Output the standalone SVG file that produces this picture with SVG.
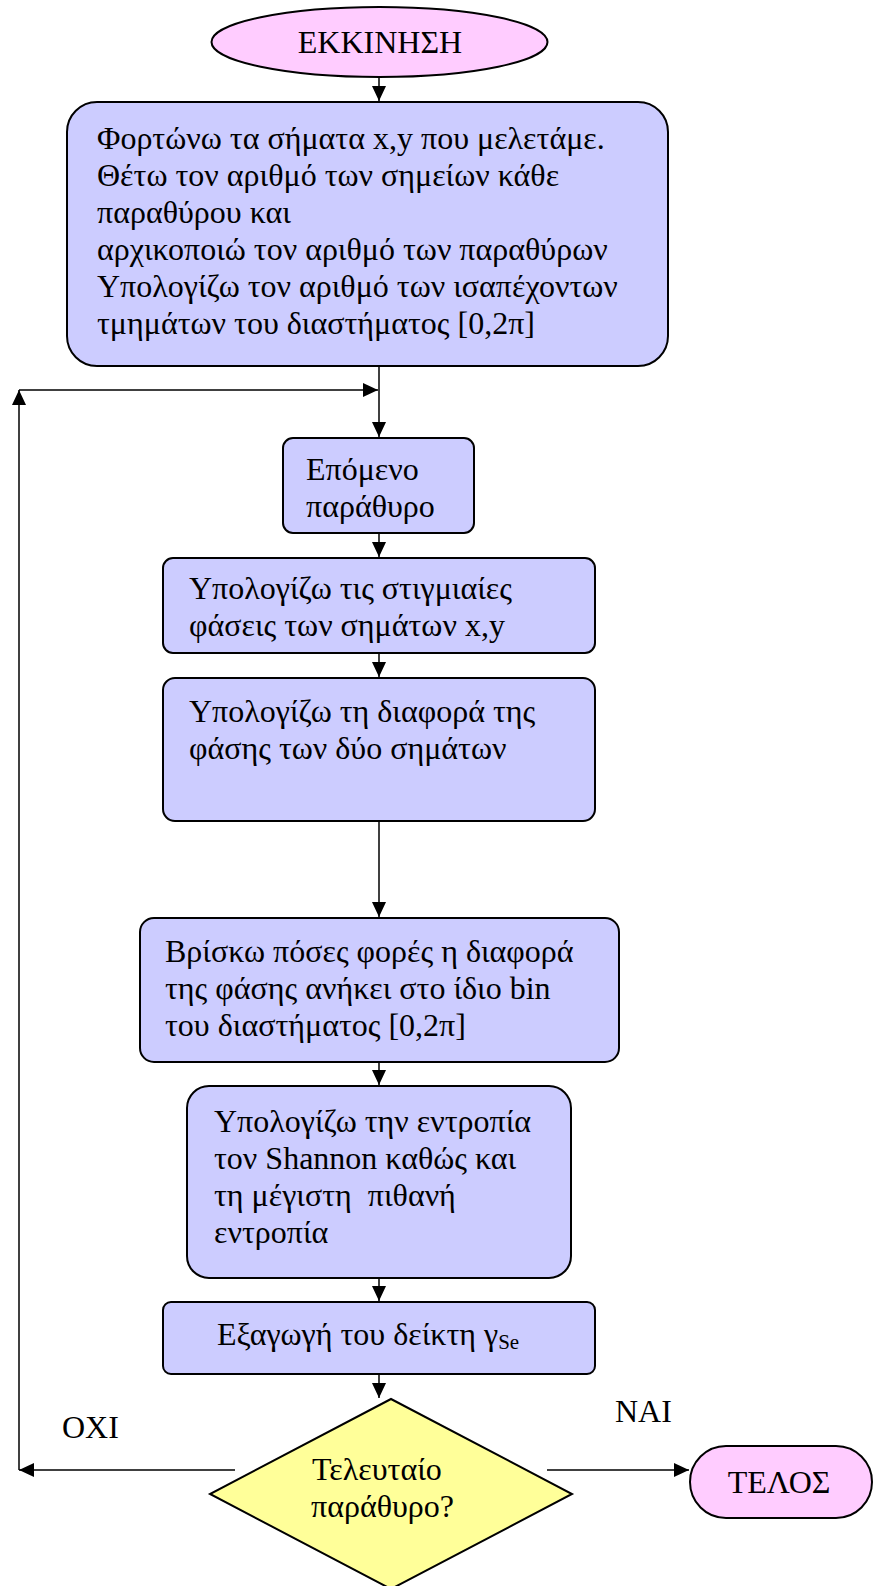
<svg xmlns="http://www.w3.org/2000/svg" width="873" height="1586" viewBox="0 0 873 1586">
<style>
text{font-family:"Liberation Serif","Times New Roman",serif;font-size:32px;fill:#000}
.box{fill:#CCCCFF;stroke:#000;stroke-width:2}
.term{fill:#FFCCFF;stroke:#000;stroke-width:2}
.dec{fill:#FFFF99;stroke:#000;stroke-width:2}
.con{stroke:#000;stroke-width:1.5;fill:none;marker-end:url(#ah)}
</style>
<defs>
<marker id="ah" markerUnits="userSpaceOnUse" markerWidth="16" markerHeight="14" refX="15" refY="7" orient="auto">
<path d="M0,0 L15,7 L0,14 z" fill="#000"/>
</marker>
</defs>
<rect width="873" height="1586" fill="#fff"/>
<g id="connectors">
<line class="con" x1="379" y1="77" x2="379" y2="101"/>
<line class="con" x1="379" y1="366" x2="379" y2="437"/>
<line class="con" x1="19" y1="390" x2="378" y2="390"/>
<line class="con" x1="379" y1="533" x2="379" y2="557"/>
<line class="con" x1="379" y1="653" x2="379" y2="677"/>
<line class="con" x1="379" y1="821" x2="379" y2="917"/>
<line class="con" x1="379" y1="1062" x2="379" y2="1085"/>
<line class="con" x1="379" y1="1278" x2="379" y2="1301"/>
<line class="con" x1="379" y1="1374" x2="379" y2="1398"/>
<line class="con" x1="235" y1="1470" x2="19" y2="1470"/>
<line class="con" x1="19" y1="1470" x2="19" y2="390"/>
<line class="con" x1="547" y1="1470" x2="689" y2="1470"/>
</g>
<g id="start">
<ellipse class="term" cx="379.5" cy="42" rx="168" ry="35"/>
<text x="380" y="53" text-anchor="middle">ΕΚΚΙΝΗΣΗ</text>
</g>
<g id="load">
<rect class="box" x="67" y="102" width="601" height="264" rx="30"/>
<text x="97" y="149">Φορτώνω τα σήματα x,y που μελετάμε.</text>
<text x="97" y="186">Θέτω τον αριθμό των σημείων κάθε</text>
<text x="97" y="223">παραθύρου και</text>
<text x="97" y="260">αρχικοποιώ τον αριθμό των παραθύρων</text>
<text x="97" y="297">Υπολογίζω τον αριθμό των ισαπέχοντων</text>
<text x="97" y="334">τμημάτων του διαστήματος [0,2π]</text>
</g>
<g id="next">
<rect class="box" x="283" y="438" width="191" height="95" rx="10"/>
<text x="306" y="480">Επόμενο</text>
<text x="306" y="517">παράθυρο</text>
</g>
<g id="phases">
<rect class="box" x="163" y="558" width="432" height="95" rx="10"/>
<text x="189" y="599">Υπολογίζω τις στιγμιαίες</text>
<text x="189" y="636">φάσεις των σημάτων x,y</text>
</g>
<g id="diff">
<rect class="box" x="163" y="678" width="432" height="143" rx="12"/>
<text x="189" y="722">Υπολογίζω τη διαφορά της</text>
<text x="189" y="759">φάσης των δύο σημάτων</text>
</g>
<g id="bins">
<rect class="box" x="140" y="918" width="479" height="144" rx="14"/>
<text x="165" y="962">Βρίσκω πόσες φορές η διαφορά</text>
<text x="165" y="999">της φάσης ανήκει στο ίδιο bin</text>
<text x="165" y="1036">του διαστήματος [0,2π]</text>
</g>
<g id="entropy">
<rect class="box" x="187" y="1086" width="384" height="192" rx="22"/>
<text x="214" y="1132">Υπολογίζω την εντροπία</text>
<text x="214" y="1169">τον Shannon καθώς και</text>
<text x="214" y="1206" xml:space="preserve">τη μέγιστη  πιθανή</text>
<text x="214" y="1243">εντροπία</text>
</g>
<g id="index">
<rect class="box" x="163" y="1302" width="432" height="72" rx="8"/>
<text x="217" y="1345">Εξαγωγή του δείκτη γ<tspan font-size="21" dy="4">Se</tspan></text>
</g>
<g id="decision">
<polygon class="dec" points="391,1399 572,1494 391,1589 210,1494"/>
<text x="312" y="1480">Τελευταίο</text>
<text x="311" y="1517">παράθυρο?</text>
</g>
<g id="labels">
<text x="62" y="1438">ΟΧΙ</text>
<text x="615" y="1422">ΝΑΙ</text>
</g>
<g id="end">
<rect class="term" x="690" y="1446" width="182" height="72" rx="36"/>
<text x="779" y="1493" text-anchor="middle">ΤΕΛΟΣ</text>
</g>
</svg>
